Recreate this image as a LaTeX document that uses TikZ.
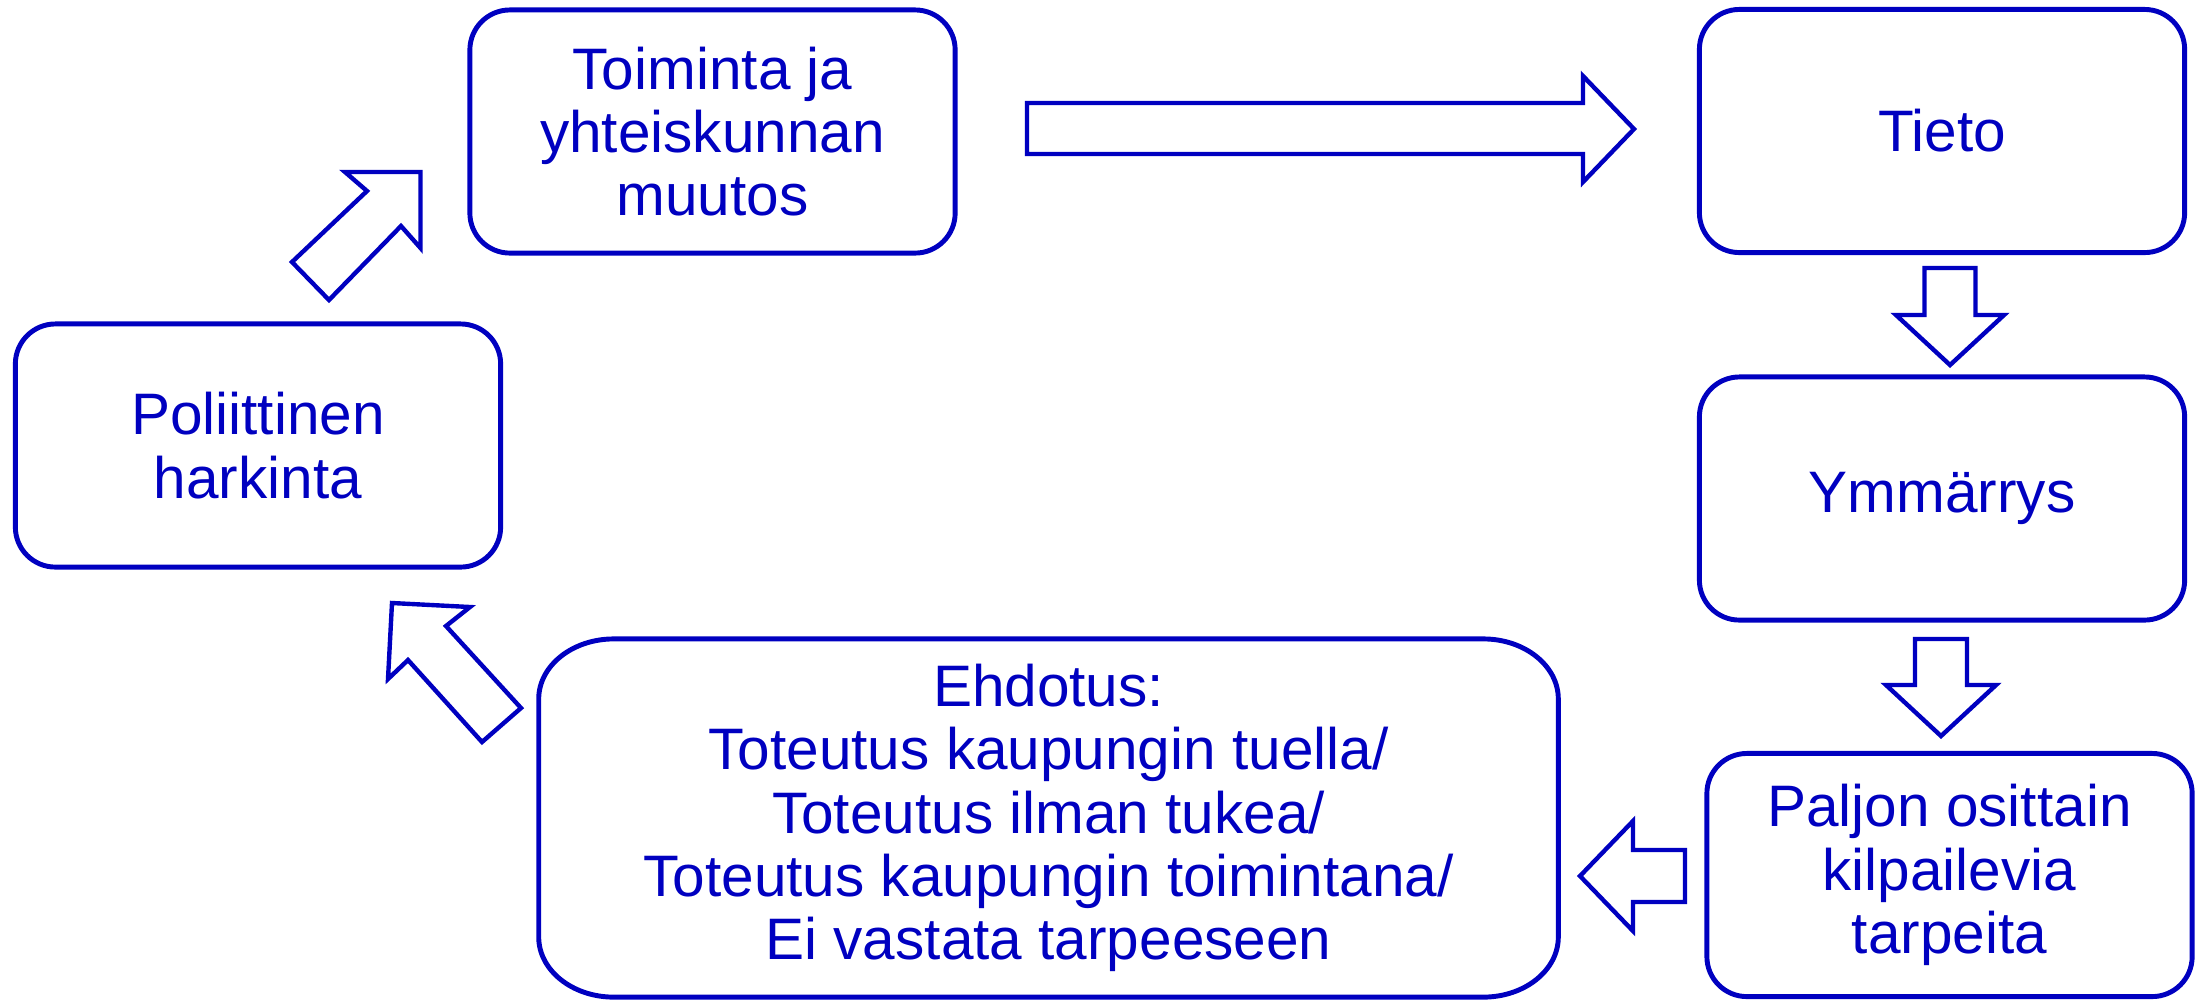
\documentclass[tikz,border=0pt]{standalone}
\usepackage{fontspec}
\setmainfont{Liberation Sans}
\definecolor{dblue}{RGB}{0,0,192}
\tikzset{
  txt/.style={inner sep=0pt, outer sep=0pt, align=center, text=dblue,
    font=\fontsize{16.64pt}{18pt}\selectfont},
  box/.style={txt, draw=dblue, line width=1.4pt, rounded corners=0.4cm,
    minimum width=4.85cm, minimum height=2.43cm},
  outl/.style={draw=dblue, line width=1.4pt},
  blockarrow/.style={draw=dblue, line width=1.25pt, line join=miter, fill=white}
}
\begin{document}
\begin{tikzpicture}[x=0.01cm, y=-0.01cm]
\useasboundingbox (0,0) rectangle (2195,999);

% boxes
\node[box] (act) at (712.5,131.5) {Toiminta ja\\yhteiskunnan\\muutos};
\node[box] (tieto) at (1942,131) {Tieto};
\node[box] (ymm) at (1942,498.5) {Ymmärrys};
\node[box] (tarp) at (1949.5,875) {Paljon osittain\\kilpailevia\\tarpeita};
\node[box] (pol) at (258,445.5) {Poliittinen\\harkinta};
\node[txt, minimum width=10.19cm, minimum height=3.58cm] (ehd) at (1048.5,818)
  {Ehdotus:\\Toteutus kaupungin tuella/\\Toteutus ilman tukea/\\Toteutus kaupungin toimintana/\\Ei vastata tarpeeseen};
\draw[outl] ([xshift=0.75cm]ehd.north west) -- ([xshift=-0.75cm]ehd.north east)
  arc[start angle=90, end angle=0, x radius=0.75cm, y radius=0.6cm]
  -- ([yshift=0.6cm]ehd.south east)
  arc[start angle=0, end angle=-90, x radius=0.75cm, y radius=0.6cm]
  -- ([xshift=0.75cm]ehd.south west)
  arc[start angle=270, end angle=180, x radius=0.75cm, y radius=0.6cm]
  -- ([yshift=-0.6cm]ehd.north west)
  arc[start angle=180, end angle=90, x radius=0.75cm, y radius=0.6cm]
  -- cycle;

% block arrows
% act -> tieto
\draw[blockarrow] (1027,103) -- (1583,103) -- (1583,76) -- (1634,129)
  -- (1583,182) -- (1583,154) -- (1027,154) -- cycle;
% tieto -> ymm
\draw[blockarrow] (1924.5,268) -- (1975.5,268) -- (1975.5,315) -- (2004,315)
  -- (1950,365) -- (1896,315) -- (1924.5,315) -- cycle;
% ymm -> tarp
\draw[blockarrow] (1915,639) -- (1967,639) -- (1967,685) -- (1996,685)
  -- (1941,736) -- (1886,685) -- (1915,685) -- cycle;
% tarp -> ehd
\draw[blockarrow] (1685,850) -- (1633,850) -- (1633,821) -- (1580,876)
  -- (1633,931) -- (1633,902) -- (1685,902) -- cycle;
% ehd -> pol
\draw[blockarrow] (521,708) -- (446,626) -- (470,607) -- (392,603)
  -- (388,679) -- (408,660) -- (482,742) -- cycle;
% pol -> act
\draw[blockarrow] (292,262) -- (367,191) -- (345,172) -- (420.5,172)
  -- (420.5,248) -- (401,226) -- (329,300) -- cycle;
\end{tikzpicture}
\end{document}
